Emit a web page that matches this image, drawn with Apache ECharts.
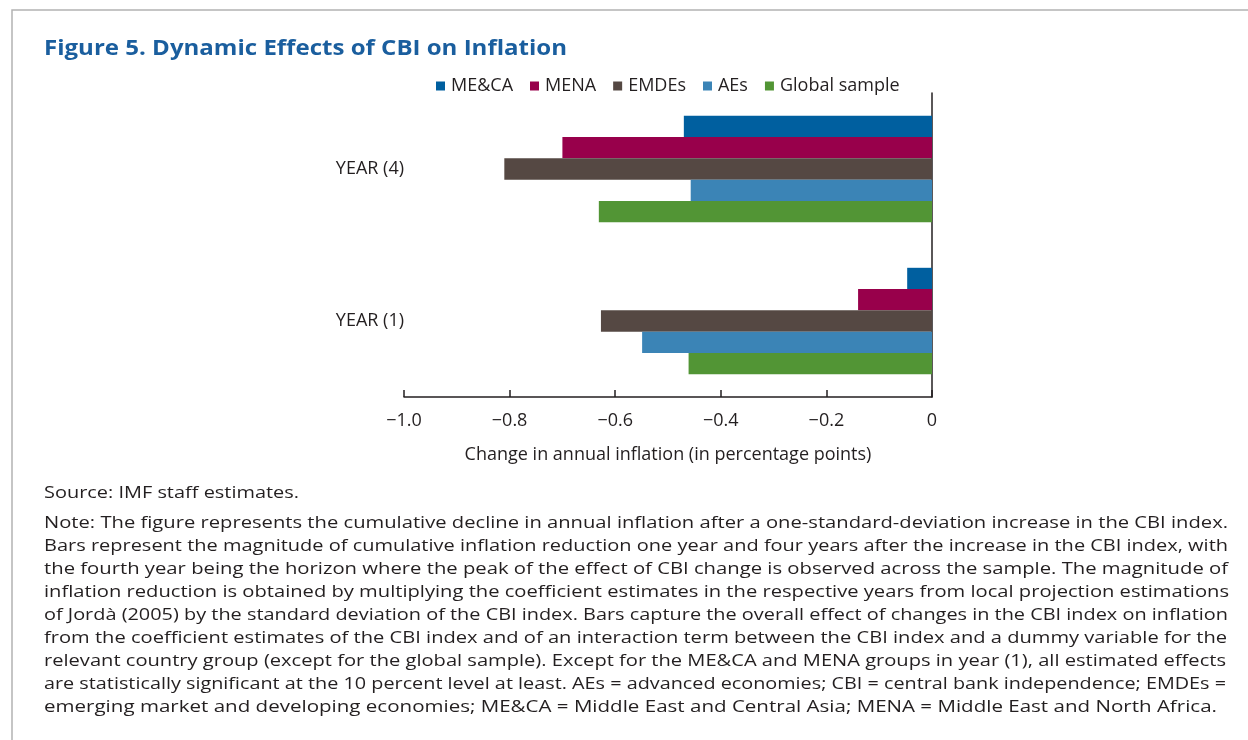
<!DOCTYPE html>
<html>
<head>
<meta charset="utf-8">
<script src="https://cdn.jsdelivr.net/npm/echarts@6/dist/echarts.min.js"></script>
<style>
html,body{margin:0;padding:0;background:#fff;}
#chart{width:1248px;height:740px;}
</style>
</head>
<body>
<div id="chart"></div>
<script>
const categories = ['YEAR (4)', 'YEAR (1)'];
const seriesNames = ['ME&CA', 'MENA', 'EMDEs', 'AEs', 'Global sample'];
const meca = [-0.47, -0.047];
const mena = [-0.70, -0.14];
const emdes = [-0.81, -0.627];
const aes = [-0.457, -0.549];
const globalSample = [-0.631, -0.461];
const xTicks = ['\u22121.0', '\u22120.8', '\u22120.6', '\u22120.4', '\u22120.2', '0'];
const colors = ['#005f9f', '#98004b', '#554843', '#3b84b6', '#529535'];
const titleText = 'Figure 5. Dynamic Effects of CBI on Inflation';
const sourceText = 'Source: IMF staff estimates.';
const noteLines = [
  'Note: The figure represents the cumulative decline in annual inflation after a one-standard-deviation increase in the CBI index.',
  'Bars represent the magnitude of cumulative inflation reduction one year and four years after the increase in the CBI index, with',
  'the fourth year being the horizon where the peak of the effect of CBI change is observed across the sample. The magnitude of',
  'inflation reduction is obtained by multiplying the coefficient estimates in the respective years from local projection estimations',
  'of Jord\u00e0 (2005) by the standard deviation of the CBI index. Bars capture the overall effect of changes in the CBI index on inflation',
  'from the coefficient estimates of the CBI index and of an interaction term between the CBI index and a dummy variable for the',
  'relevant country group (except for the global sample). Except for the ME&CA and MENA groups in year (1), all estimated effects',
  'are statistically significant at the 10 percent level at least. AEs = advanced economies; CBI = central bank independence; EMDEs =',
  'emerging market and developing economies; ME&CA = Middle East and Central Asia; MENA = Middle East and North Africa.'
];
const noteRight = [1228, 1228, 1228, 1229, 1228, 1227, 1226, 1226, 1217];
const allData = [meca, mena, emdes, aes, globalSample];
const FONT = '"Open Sans", sans-serif';
const TXT = '#231f20';
const BODY = '17px ' + FONT;
const FS = 18;

const cv = document.createElement('canvas').getContext('2d');
function measure(text, font) { cv.font = font; return cv.measureText(text).width; }

const chart = echarts.init(document.getElementById('chart'), null, {renderer: 'canvas'});

const titleFont = 'bold 21.5px ' + FONT;
const titleScale = 523 / measure(titleText, titleFont);

const graphics = [
  {type: 'rect', shape: {x: 12, y: 10, width: 1400, height: 900}, style: {fill: 'none', stroke: '#b3b3b3', lineWidth: 1.5}, silent: true},
  {type: 'text', x: 44, y: 38, scaleX: titleScale, style: {x: 0, y: 0, text: titleText, font: titleFont, fill: '#1a5e9e', verticalAlign: 'top'}},
  {type: 'text', x: 44, y: 485, scaleX: 255 / measure(sourceText, BODY), style: {x: 0, y: 0, text: sourceText, font: BODY, fill: TXT, verticalAlign: 'top'}}
];
noteLines.forEach((t, i) => {
  const s = (noteRight[i] - 44) / measure(t, BODY);
  graphics.push({type: 'text', x: 44, y: 515 + i * 23, scaleX: s, style: {x: 0, y: 0, text: t, font: BODY, fill: TXT, verticalAlign: 'top'}});
});

const option = {
  backgroundColor: '#fff',
  animation: false,
  color: colors,
  textStyle: {fontFamily: FONT, color: TXT},
  legend: {
    left: 431, top: 72,
    itemWidth: 9, itemHeight: 9, itemGap: 17,
    icon: 'rect',
    textStyle: {fontSize: FS, color: TXT, fontFamily: FONT, padding: [0, 0, 0, 1]},
    data: seriesNames
  },
  grid: {left: 404, right: 316, top: 93, bottom: 343, containLabel: false},
  xAxis: {
    type: 'value', min: -1, max: 0, interval: 0.2,
    axisLine: {show: true, lineStyle: {color: TXT, width: 1.5}},
    axisTick: {show: true, inside: true, length: 7, lineStyle: {color: TXT, width: 1.5}},
    splitLine: {show: false},
    axisLabel: {
      fontSize: FS, color: TXT, margin: 15, fontFamily: FONT,
      formatter: function (v) { const idx = Math.round((v + 1) / 0.2); return xTicks[idx]; }
    },
    name: 'Change in annual inflation (in percentage points)',
    nameLocation: 'middle', nameGap: 49,
    nameTextStyle: {fontSize: FS, color: TXT, fontFamily: FONT}
  },
  yAxis: [
    {
      type: 'category', data: categories, inverse: true, position: 'left',
      axisLine: {show: false}, axisTick: {show: false},
      axisLabel: {fontSize: FS, color: TXT, margin: 0, fontFamily: FONT}
    },
    {
      type: 'category', data: categories, inverse: true, position: 'right',
      axisLine: {show: true, lineStyle: {color: TXT, width: 1.5}}, axisTick: {show: false},
      axisLabel: {show: false}
    }
  ],
  series: seriesNames.map((n, i) => ({
    name: n, type: 'bar', yAxisIndex: 0, data: allData[i],
    barGap: '0%', barCategoryGap: '30%',
    itemStyle: {color: colors[i]}
  })),
  graphic: graphics
};
chart.setOption(option);
</script>
</body>
</html>
